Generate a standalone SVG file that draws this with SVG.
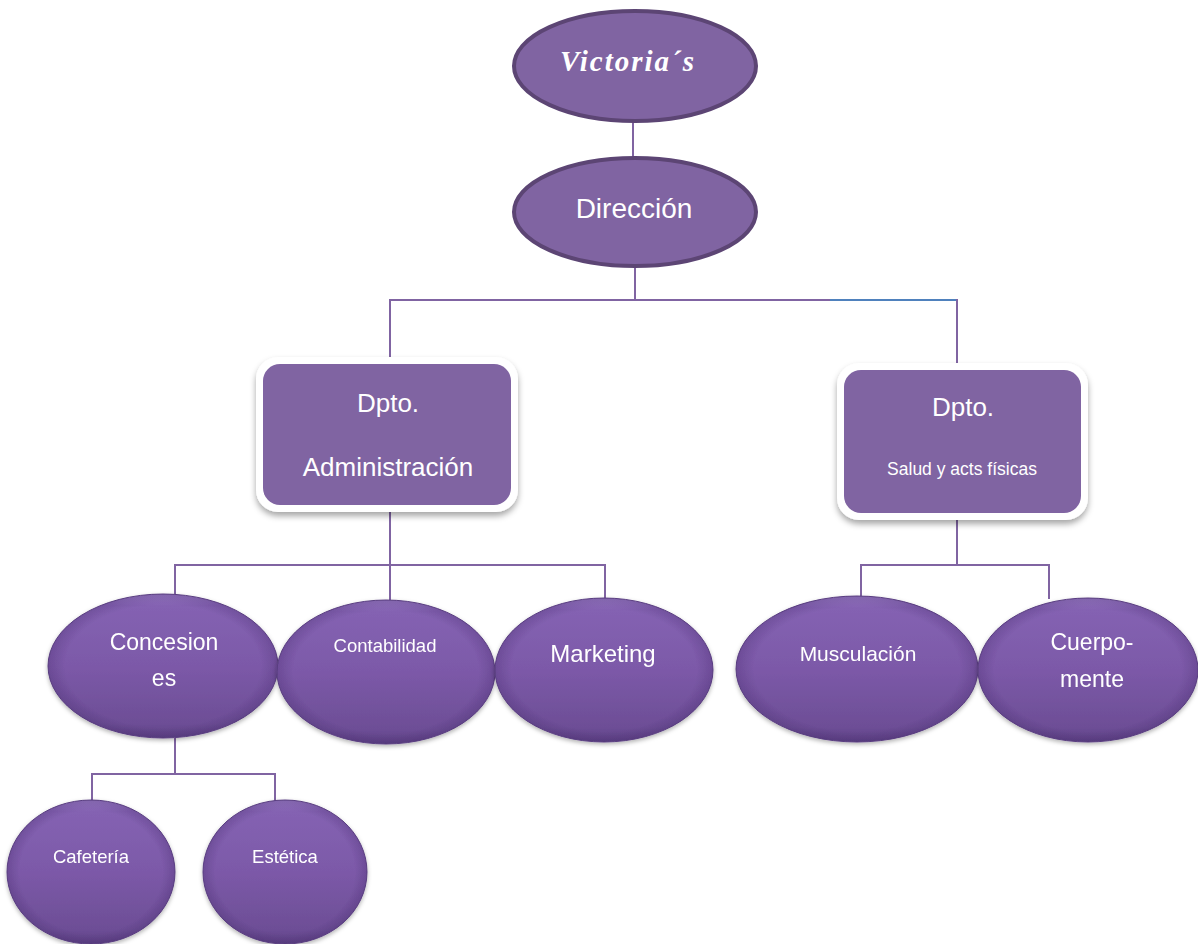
<svg xmlns="http://www.w3.org/2000/svg" width="1198" height="944" viewBox="0 0 1198 944">
<defs>
<style>
.t{font-family:"Liberation Sans",Arial,sans-serif;fill:#ffffff;text-anchor:middle}
.ln{stroke:#8064a2;stroke-width:2;fill:none}
.top{fill:#8064a2;stroke:#5c4574;stroke-width:4}
.bub{fill:url(#bg);stroke:#5e4285;stroke-width:1}
.ov{fill:url(#edge)}
.frame{fill:#ffffff;filter:url(#sh)}
.box{fill:#8064a2}
</style>
<linearGradient id="bg" x1="0" y1="0" x2="0" y2="1">
<stop offset="0" stop-color="#9a7cc6"/>
<stop offset="0.08" stop-color="#8462b2"/>
<stop offset="0.5" stop-color="#7c59a8"/>
<stop offset="0.9" stop-color="#6d4e96"/>
<stop offset="1" stop-color="#5f4286"/>
</linearGradient>
<radialGradient id="edge" cx="0.5" cy="0.5" r="0.5">
<stop offset="0.85" stop-color="#3a2060" stop-opacity="0"/>
<stop offset="1" stop-color="#3a2060" stop-opacity="0.25"/>
</radialGradient>
<filter id="sh" x="-10%" y="-10%" width="120%" height="130%">
<feDropShadow dx="0" dy="4" stdDeviation="3" flood-color="#000000" flood-opacity="0.35"/>
</filter>
<filter id="bs" x="-10%" y="-10%" width="120%" height="130%">
<feDropShadow dx="0" dy="2" stdDeviation="2" flood-color="#000000" flood-opacity="0.3"/>
</filter>
</defs>
<rect width="1198" height="944" fill="#ffffff"/>
<g id="connectors">
<line class="ln" x1="633" y1="120" x2="633" y2="160"/>
<line class="ln" x1="635" y1="265" x2="635" y2="300"/>
<line class="ln" x1="390" y1="300" x2="830" y2="300"/>
<line x1="830" y1="300" x2="957" y2="300" stroke="#4f81bd" stroke-width="2"/>
<line class="ln" x1="390" y1="299" x2="390" y2="365"/>
<line class="ln" x1="957" y1="299" x2="957" y2="370"/>
<line class="ln" x1="390" y1="510" x2="390" y2="565"/>
<line class="ln" x1="174" y1="565" x2="606" y2="565"/>
<line class="ln" x1="175" y1="564" x2="175" y2="596"/>
<line class="ln" x1="390" y1="564" x2="390" y2="600"/>
<line class="ln" x1="605" y1="564" x2="605" y2="600"/>
<line class="ln" x1="957" y1="515" x2="957" y2="565"/>
<line class="ln" x1="860" y1="565" x2="1050" y2="565"/>
<line class="ln" x1="861" y1="564" x2="861" y2="596"/>
<line class="ln" x1="1049" y1="564" x2="1049" y2="599"/>
<line class="ln" x1="175" y1="738" x2="175" y2="774"/>
<line class="ln" x1="91" y1="774" x2="276" y2="774"/>
<line class="ln" x1="92" y1="773" x2="92" y2="802"/>
<line class="ln" x1="275" y1="773" x2="275" y2="802"/>
</g>
<g id="victorias">
<ellipse class="top" cx="635" cy="66" rx="121" ry="55"/>
<text x="628" y="71" font-family="'Liberation Serif',serif" font-style="italic" font-weight="bold" font-size="29" fill="#ffffff" text-anchor="middle" letter-spacing="2">Victoria´s</text>
</g>
<g id="direccion">
<ellipse class="top" cx="635" cy="212" rx="121" ry="54"/>
<text class="t" x="634" y="218" font-size="28">Dirección</text>
</g>
<g id="admin">
<rect class="frame" x="256" y="357" width="262" height="155" rx="22"/>
<rect class="box" x="263" y="364" width="248" height="141" rx="17"/>
<text class="t" x="388" y="412" font-size="26">Dpto.</text>
<text class="t" x="388" y="476" font-size="26">Administración</text>
</g>
<g id="salud">
<rect class="frame" x="837" y="363" width="251" height="157" rx="22"/>
<rect class="box" x="844" y="370" width="237" height="143" rx="17"/>
<text class="t" x="963" y="416" font-size="26">Dpto.</text>
<text class="t" x="962" y="475" font-size="17.5">Salud y acts físicas</text>
</g>
<g id="concesiones" filter="url(#bs)">
<ellipse class="bub" cx="163" cy="666" rx="115" ry="72"/>
<ellipse class="ov" cx="163" cy="666" rx="115" ry="72"/>
<text class="t" x="164" y="650" font-size="23">Concesion</text>
<text class="t" x="164" y="686" font-size="23">es</text>
</g>
<g id="contabilidad" filter="url(#bs)">
<ellipse class="bub" cx="386" cy="672" rx="109" ry="72"/>
<ellipse class="ov" cx="386" cy="672" rx="109" ry="72"/>
<text class="t" x="385" y="652" font-size="18.5">Contabilidad</text>
</g>
<g id="marketing" filter="url(#bs)">
<ellipse class="bub" cx="604" cy="670" rx="109" ry="72"/>
<ellipse class="ov" cx="604" cy="670" rx="109" ry="72"/>
<text class="t" x="603" y="662" font-size="24">Marketing</text>
</g>
<g id="musculacion" filter="url(#bs)">
<ellipse class="bub" cx="857" cy="669" rx="121" ry="73"/>
<ellipse class="ov" cx="857" cy="669" rx="121" ry="73"/>
<text class="t" x="858" y="661" font-size="21">Musculación</text>
</g>
<g id="cuerpomente" filter="url(#bs)">
<ellipse class="bub" cx="1088" cy="670" rx="110" ry="72"/>
<ellipse class="ov" cx="1088" cy="670" rx="110" ry="72"/>
<text class="t" x="1092" y="650" font-size="23">Cuerpo-</text>
<text class="t" x="1092" y="687" font-size="23">mente</text>
</g>
<g id="cafeteria" filter="url(#bs)">
<ellipse class="bub" cx="91" cy="872" rx="84" ry="72"/>
<ellipse class="ov" cx="91" cy="872" rx="84" ry="72"/>
<text class="t" x="91" y="863" font-size="18.5">Cafetería</text>
</g>
<g id="estetica" filter="url(#bs)">
<ellipse class="bub" cx="285" cy="872" rx="82" ry="72"/>
<ellipse class="ov" cx="285" cy="872" rx="82" ry="72"/>
<text class="t" x="285" y="863" font-size="18.5">Estética</text>
</g>
</svg>
